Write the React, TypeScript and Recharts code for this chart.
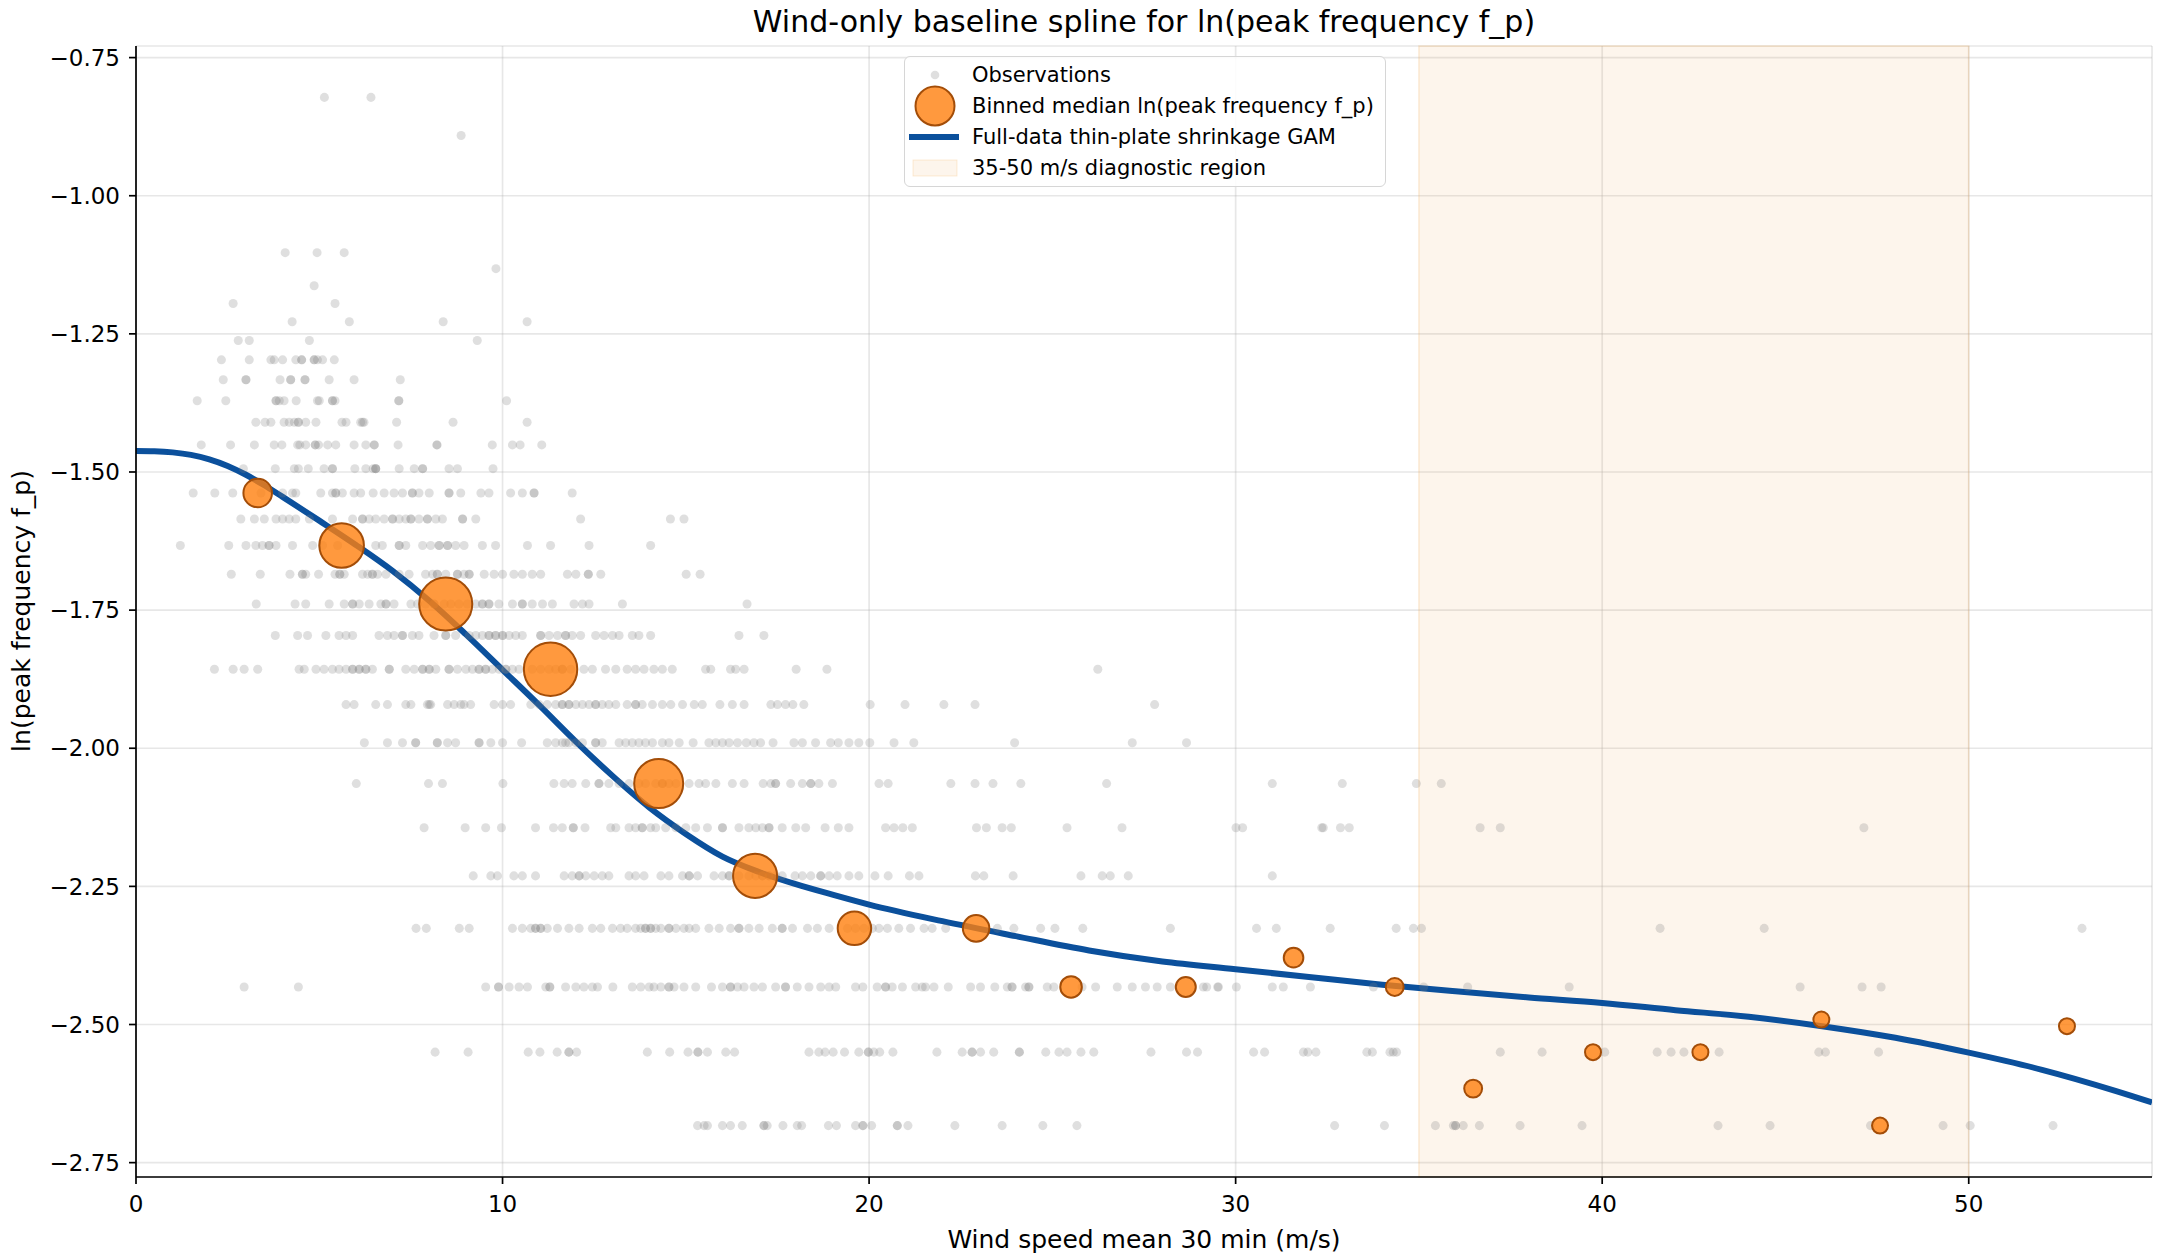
import React from 'react';
import { ComposedChart, Scatter, Line, XAxis, YAxis, ZAxis, CartesianGrid, ReferenceArea, Legend } from 'recharts';

const FONT = '"DejaVu Sans", Verdana, sans-serif';

const X_TICKS = [0, 10, 20, 30, 40, 50];
const Y_TICKS = [-2.75, -2.5, -2.25, -2.0, -1.75, -1.5, -1.25, -1.0, -0.75];

// discrete ln(f_p) levels the observations sit on (top to bottom)
const obsLevels = [
  -0.822, -0.891, -1.103, -1.132, -1.163, -1.195, -1.228, -1.262, -1.297, -1.333,
  -1.371, -1.41, -1.451, -1.494, -1.538, -1.585, -1.633, -1.685, -1.739, -1.796,
  -1.857, -1.921, -1.99, -2.064, -2.144, -2.231, -2.326, -2.432, -2.55, -2.683,
];

// wind speeds of the observations on each level (same order as obsLevels)
const obsWind: number[][] = [
  [5.14, 6.41],
  [8.87],
  [4.07, 4.94, 5.68],
  [9.82],
  [4.86],
  [2.65, 5.43],
  [4.26, 5.82, 8.38, 10.67],
  [2.79, 3.09, 4.73, 9.31],
  [2.33, 3.09, 3.68, 3.77, 4.0, 4.36, 4.52, 4.52, 4.86, 4.86, 4.95, 5.09, 5.41],
  [2.38, 3.0, 3.0, 3.93, 4.22, 4.22, 4.61, 4.61, 5.27, 5.95, 7.21],
  [1.67, 2.45, 3.82, 3.82, 3.91, 4.04, 4.37, 4.95, 5.0, 5.36, 5.36, 5.43, 7.17, 7.17, 10.11],
  [3.27, 3.52, 3.68, 4.04, 4.18, 4.32, 4.43, 4.43, 4.63, 4.91, 5.62, 5.73, 6.13, 6.18, 6.22, 7.11, 8.65, 10.67],
  [1.78, 2.58, 3.23, 3.77, 3.98, 4.41, 4.47, 4.63, 4.89, 4.89, 4.98, 5.23, 5.45, 5.95, 6.27, 6.5, 6.5, 7.15,
    8.21, 8.21, 9.72, 10.27, 10.48, 11.07],
  [2.93, 3.8, 4.32, 4.43, 4.7, 5.13, 5.36, 5.36, 5.97, 6.27, 6.47, 6.54, 6.54, 6.54, 7.18, 7.59, 7.82, 7.82,
    8.54, 8.77, 9.74],
  [1.56, 2.15, 2.64, 3.41, 4.0, 4.27, 4.36, 5.04, 5.36, 5.45, 5.45, 5.63, 5.95, 6.13, 6.47, 6.77, 7.04, 7.27,
    7.54, 7.54, 7.72, 8.0, 8.54, 8.54, 8.86, 9.41, 9.63, 10.22, 10.54, 10.86, 10.86, 11.9],
  [2.86, 3.23, 3.5, 3.82, 4.0, 4.18, 4.36, 4.73, 5.36, 5.91, 6.18, 6.18, 6.36, 6.54, 6.77, 7.0, 7.0, 7.18,
    7.36, 7.5, 7.5, 7.72, 7.95, 7.95, 8.18, 8.36, 8.91, 8.91, 9.27, 12.13, 14.58, 14.95],
  [1.21, 2.53, 3.0, 3.27, 3.45, 3.63, 3.63, 3.82, 4.27, 4.82, 5.09, 5.5, 6.54, 6.72, 7.18, 7.18, 7.36, 7.82,
    8.04, 8.27, 8.27, 8.5, 8.5, 8.72, 8.95, 9.45, 9.81, 10.68, 11.31, 12.36, 14.04],
  [2.6, 3.39, 4.2, 4.54, 4.54, 4.63, 4.98, 5.43, 5.56, 5.56, 5.68, 6.18, 6.32, 6.45, 6.45, 6.59, 6.82, 7.18,
    7.45, 7.9, 8.09, 8.22, 8.22, 8.45, 8.77, 8.77, 8.95, 9.09, 9.09, 9.5, 9.77, 10.0, 10.31, 10.54, 10.81,
    11.04, 11.77, 12.0, 12.34, 12.34, 12.68, 15.01, 15.39],
  [3.28, 4.34, 4.63, 5.27, 5.68, 5.91, 5.91, 6.09, 6.36, 6.68, 6.82, 6.82, 7.04, 7.5, 7.68, 7.9, 8.13, 8.13,
    8.41, 8.59, 8.81, 9.04, 9.27, 9.45, 9.45, 9.63, 9.63, 9.9, 10.27, 10.54, 10.54, 10.81, 11.09, 11.36,
    11.95, 12.18, 12.36, 13.27, 16.67],
  [3.8, 4.41, 4.68, 5.18, 5.54, 5.73, 5.91, 6.63, 6.86, 7.04, 7.27, 7.27, 7.54, 7.72, 8.13, 8.45, 8.45, 8.72,
    9.09, 9.27, 9.45, 9.63, 9.63, 9.81, 9.81, 10.0, 10.0, 10.18, 10.36, 10.54, 11.04, 11.04, 11.27, 11.5,
    11.72, 11.72, 11.9, 12.13, 12.54, 12.77, 13.0, 13.18, 13.54, 13.72, 14.04, 16.45, 17.13],
  [2.14, 2.65, 2.95, 3.32, 4.45, 4.59, 4.91, 5.13, 5.36, 5.54, 5.73, 5.91, 5.91, 6.09, 6.09, 6.27, 6.27,
    6.45, 6.91, 6.91, 7.36, 7.59, 7.82, 7.82, 8.0, 8.0, 8.18, 8.54, 8.54, 8.77, 9.0, 9.18, 9.36, 9.36, 9.54,
    9.54, 9.72, 9.91, 10.09, 10.09, 10.27, 10.45, 10.81, 11.04, 11.27, 11.45, 11.63, 11.63, 11.86, 12.22,
    12.45, 12.81, 13.09, 13.4, 13.63, 13.86, 14.13, 14.36, 14.63, 15.54, 15.68, 16.22, 16.36, 16.59, 18.01,
    18.85, 26.24],
  [5.73, 5.95, 6.54, 6.86, 7.36, 7.5, 7.95, 8.0, 8.04, 8.5, 8.68, 8.86, 8.95, 9.13, 9.77, 10.0, 10.22,
    10.77, 11.0, 11.22, 11.45, 11.63, 11.63, 11.81, 11.81, 12.0, 12.18, 12.36, 12.54, 12.54, 12.72, 12.9,
    13.09, 13.4, 13.63, 13.63, 13.81, 14.09, 14.36, 14.59, 14.91, 15.23, 15.45, 15.93, 16.27, 16.59, 17.32,
    17.5, 17.72, 17.92, 18.22, 20.03, 20.98, 22.04, 22.89, 27.79],
  [6.23, 6.86, 7.27, 7.63, 7.63, 8.22, 8.22, 8.5, 8.72, 9.36, 9.36, 9.68, 10.0, 10.52, 11.22, 11.45, 11.63,
    11.72, 11.81, 12.0, 12.18, 12.54, 12.54, 12.72, 13.18, 13.36, 13.54, 13.72, 13.9, 14.09, 14.36, 14.54,
    14.82, 15.2, 15.63, 15.82, 16.0, 16.18, 16.41, 16.65, 16.86, 17.04, 17.38, 17.95, 18.18, 18.54, 18.95,
    19.16, 19.45, 19.72, 20.02, 20.68, 21.22, 23.97, 27.18, 28.66],
  [6.01, 7.98, 8.36, 10.01, 11.4, 11.68, 11.9, 12.27, 12.63, 12.63, 12.9, 13.18, 13.45, 13.72, 13.9, 14.18,
    14.36, 14.36, 14.54, 14.73, 15.09, 15.36, 15.54, 15.82, 16.27, 16.59, 17.11, 17.32, 17.45, 17.45, 17.86,
    18.18, 18.41, 18.41, 18.63, 19.0, 20.27, 20.52, 22.23, 22.89, 23.38, 24.14, 26.48, 31.0, 32.91, 34.93,
    35.61],
  [7.86, 8.98, 9.54, 9.97, 10.9, 11.39, 11.63, 11.93, 11.93, 12.25, 12.95, 13.09, 13.45, 13.63, 13.81,
    13.81, 14.04, 14.18, 14.45, 14.73, 15.0, 15.27, 15.59, 16.0, 16.0, 16.45, 16.72, 16.91, 17.09, 17.27,
    17.27, 17.63, 18.0, 18.27, 18.8, 19.16, 19.45, 20.45, 20.68, 20.92, 21.18, 22.93, 23.2, 23.63, 23.88,
    25.4, 26.9, 30.01, 30.19, 32.35, 32.39, 32.86, 33.1, 36.67, 37.22, 47.14],
  [9.2, 9.68, 9.86, 10.31, 10.54, 10.9, 11.68, 11.9, 12.09, 12.09, 12.27, 12.5, 12.72, 12.9, 13.45, 13.63,
    13.86, 14.32, 14.54, 14.91, 15.09, 15.09, 15.32, 15.77, 16.0, 16.18, 16.18, 16.45, 16.72, 16.91, 17.09,
    17.09, 17.27, 17.27, 17.45, 17.63, 17.98, 18.18, 18.41, 18.68, 18.68, 18.91, 19.13, 19.45, 19.72, 20.16,
    20.52, 21.1, 21.36, 22.9, 23.13, 23.93, 25.78, 26.36, 26.58, 27.07, 31.0],
  [7.64, 7.92, 8.82, 9.09, 10.27, 10.54, 10.77, 10.9, 10.9, 11.04, 11.04, 11.22, 11.5, 11.81, 12.09, 12.45,
    12.68, 13.0, 13.22, 13.4, 13.63, 13.77, 13.9, 13.9, 14.04, 14.04, 14.18, 14.32, 14.54, 14.54, 14.73,
    14.95, 15.09, 15.27, 15.63, 15.91, 16.22, 16.45, 16.45, 16.72, 17.0, 17.36, 17.63, 17.63, 17.91, 18.32,
    18.59, 18.91, 19.41, 19.63, 19.86, 20.09, 20.27, 20.5, 20.81, 21.13, 21.5, 21.72, 22.09, 23.5, 23.95,
    24.68, 25.07, 25.83, 28.22, 30.57, 31.11, 32.58, 34.38, 34.85, 35.07, 41.58, 44.42, 53.09],
  [2.95, 4.43, 9.54, 9.89, 9.89, 10.18, 10.45, 10.68, 11.18, 11.29, 11.29, 11.72, 12.0, 12.22, 12.45, 12.59,
    13.01, 13.54, 13.77, 14.0, 14.13, 14.32, 14.54, 14.54, 14.68, 14.95, 15.27, 15.7, 16.0, 16.22, 16.22,
    16.41, 16.59, 16.86, 17.09, 17.45, 17.72, 17.72, 18.04, 18.36, 18.68, 18.91, 19.09, 19.63, 19.83, 20.22,
    20.45, 20.45, 20.63, 20.91, 21.27, 21.45, 21.54, 21.77, 22.16, 22.77, 23.04, 23.43, 23.77, 23.9, 23.9,
    24.27, 24.36, 24.36, 24.86, 25.04, 25.81, 26.18, 26.77, 27.18, 27.54, 27.86, 28.22, 29.12, 29.21, 29.51,
    29.53, 30.02, 31.0, 31.3, 32.04, 33.76, 35.13, 36.33, 39.1, 45.4, 47.09, 47.61],
  [8.16, 9.06, 10.7, 11.02, 11.49, 11.81, 11.81, 12.02, 13.95, 14.56, 15.06, 15.33, 15.33, 15.59, 16.09,
    16.33, 18.36, 18.63, 18.8, 19.02, 19.33, 19.72, 19.98, 19.98, 20.13, 20.29, 20.65, 21.85, 22.54, 22.81,
    22.81, 23.04, 23.4, 24.1, 24.1, 24.82, 25.18, 25.4, 25.78, 26.13, 27.69, 28.66, 28.96, 30.49, 30.79,
    31.85, 31.97, 32.19, 33.58, 33.73, 34.21, 34.3, 34.39, 37.22, 38.36, 40.07, 41.5, 41.88, 42.23, 43.19,
    45.91, 46.09, 47.54],
  [15.32, 15.5, 15.59, 16.0, 16.22, 16.54, 17.13, 17.13, 17.22, 17.65, 18.04, 18.16, 18.89, 19.11, 19.63,
    19.83, 19.83, 20.07, 20.77, 20.77, 21.06, 22.34, 23.63, 24.74, 25.67, 32.7, 34.06, 35.45, 35.94, 36.0,
    36.0, 36.21, 36.65, 37.76, 39.45, 43.16, 44.58, 47.32, 49.3, 50.04, 52.3],
];

// binned medians: wind speed, median ln(f_p), observations in bin
const binWind = [3.32, 5.61, 8.45, 11.31, 14.26, 16.89, 19.6, 22.92, 25.51, 28.64, 31.58, 34.34, 36.48, 39.75, 42.68, 45.98, 47.58, 52.68];
const binMedian = [-1.538, -1.633, -1.739, -1.857, -2.064, -2.231, -2.326, -2.326, -2.432, -2.432, -2.379, -2.432, -2.616, -2.55, -2.55, -2.491, -2.683, -2.503];
const binCount = [51, 124, 176, 178, 150, 121, 70, 44, 29, 25, 24, 20, 20, 16, 16, 16, 16, 16];

// GAM fit sampled along the wind axis
const gamWind = [0, 0.5, 1, 1.5, 2, 2.5, 3, 3.5, 4, 5, 6, 7, 8, 9, 10, 11, 12, 13, 14, 15, 16, 17, 18, 19, 20, 22, 24, 26, 28, 30, 32, 34, 36, 38, 40, 42, 44, 46, 48, 50, 52, 54, 55];
const gamFit = [
  -1.462, -1.4625, -1.4645, -1.469, -1.477, -1.489, -1.505, -1.524, -1.545, -1.588, -1.632, -1.679, -1.733,
  -1.794, -1.858, -1.922, -1.988, -2.05, -2.107, -2.155, -2.196, -2.224, -2.246, -2.265, -2.283, -2.313,
  -2.34, -2.366, -2.386, -2.4, -2.414, -2.428, -2.44, -2.451, -2.461, -2.474, -2.486, -2.503, -2.524,
  -2.551, -2.582, -2.62, -2.641,
];

const observations = obsLevels.flatMap((level, i) => obsWind[i].map((x) => ({ x, y: level })));
const bins = binWind.map((x, i) => ({ x, y: binMedian[i], n: binCount[i] }));
const gam = gamWind.map((x, i) => ({ x, y: gamFit[i] }));

const BLUE = '#0b509c';
const ORANGE = '#ff7f0e';
const ORANGE_EDGE = '#a34d08';
const SPAN = '#f0a040';

const fmtY = (v: number) => v.toFixed(2).replace('-', '\u2212');

const tickStyle = { fill: '#000', fontSize: 23, fontFamily: FONT };
const axisLine = { stroke: '#000', strokeWidth: 1.7 };

function YLabel() {
  return (
    <text
      x={21}
      y={611}
      transform="rotate(-90 21 611)"
      textAnchor="middle"
      dominantBaseline="central"
      fontSize={25}
      fontFamily={FONT}
      fill="#000"
    >
      ln(peak frequency f_p)
    </text>
  );
}

function LegendBox() {
  const rows = [
    'Observations',
    'Binned median ln(peak frequency f_p)',
    'Full-data thin-plate shrinkage GAM',
    '35-50 m/s diagnostic region',
  ];
  const ys = [18, 49, 80, 111];
  return (
    <div
      style={{
        position: 'relative',
        width: 482,
        height: 131,
        boxSizing: 'border-box',
        border: '1.7px solid #d6d6d6',
        borderRadius: 6,
        background: 'rgba(255,255,255,0.85)',
        fontFamily: FONT,
        fontSize: 21,
        color: '#000',
      }}
    >
      <svg width={70} height={131} style={{ position: 'absolute', left: 0, top: 0 }}>
        <circle cx={30} cy={ys[0]} r={4.3} fill="#808080" fillOpacity={0.25} />
        <circle cx={30} cy={ys[1]} r={19.5} fill={ORANGE} fillOpacity={0.8} stroke={ORANGE_EDGE} strokeWidth={2} />
        <line x1={4} x2={54} y1={ys[2]} y2={ys[2]} stroke={BLUE} strokeWidth={6} />
        <rect x={8} y={ys[3] - 8} width={44} height={16} fill={SPAN} fillOpacity={0.1} stroke={SPAN} strokeOpacity={0.2} />
      </svg>
      {rows.map((r, i) => (
        <div
          key={r}
          style={{ position: 'absolute', left: 67, top: ys[i] - 13, lineHeight: '26px', whiteSpace: 'nowrap' }}
        >
          {r}
        </div>
      ))}
    </div>
  );
}

export default function App() {
  return (
    <div style={{ position: 'absolute', left: 0, top: 0, width: 2160, height: 1260, background: '#fff', fontFamily: FONT }}>
      <div
        style={{
          position: 'absolute',
          left: 136,
          width: 2016,
          top: 7,
          textAlign: 'center',
          fontSize: 30,
          lineHeight: '30px',
          color: '#000',
          zIndex: 2,
        }}
      >
        Wind-only baseline spline for ln(peak frequency f_p)
      </div>
      <ComposedChart width={2160} height={1260} margin={{ top: 46, right: 8, bottom: 0, left: 0 }}>
        <ReferenceArea x1={35} x2={50} fill={SPAN} fillOpacity={0.1} stroke={SPAN} strokeOpacity={0.2} strokeWidth={1.5} />
        <CartesianGrid stroke="#b0b0b0" strokeOpacity={0.3} strokeWidth={1.7} />
        <XAxis
          dataKey="x"
          type="number"
          domain={[0, 55]}
          ticks={X_TICKS}
          allowDataOverflow
          height={83}
          tickSize={7}
          tickMargin={12}
          tick={tickStyle}
          tickLine={axisLine}
          axisLine={axisLine}
          label={{ value: 'Wind speed mean 30 min (m/s)', position: 'insideBottom', offset: 12, fill: '#000', fontSize: 25, fontFamily: FONT }}
        />
        <XAxis xAxisId="top" orientation="top" type="number" domain={[0, 55]} height={0} tick={false} tickLine={false} axisLine={axisLine} />
        <YAxis
          dataKey="y"
          type="number"
          domain={[-2.776, -0.729]}
          ticks={Y_TICKS}
          allowDataOverflow
          width={136}
          tickSize={7}
          tickMargin={9}
          tick={tickStyle}
          tickLine={axisLine}
          axisLine={axisLine}
          tickFormatter={fmtY}
          label={{ content: () => <YLabel /> }}
        />
        <YAxis yAxisId="right" orientation="right" type="number" domain={[-2.776, -0.729]} width={0} tick={false} tickLine={false} axisLine={axisLine} />
        <ZAxis zAxisId="obs" range={[58, 58]} />
        <ZAxis zAxisId="bins" dataKey="n" type="number" domain={[16, 178]} range={[201.3, 2240]} />
        <Scatter name="Observations" data={observations} zAxisId="obs" fill="#808080" fillOpacity={0.25} isAnimationActive={false} />
        <Line data={gam} dataKey="y" type="monotone" stroke={BLUE} strokeWidth={6} dot={false} activeDot={false} isAnimationActive={false} />
        <Scatter name="Binned median" data={bins} zAxisId="bins" fill={ORANGE} fillOpacity={0.8} stroke={ORANGE_EDGE} strokeWidth={2} isAnimationActive={false} />
        <Legend
          layout="vertical"
          align="center"
          verticalAlign="middle"
          content={() => <LegendBox />}
          wrapperStyle={{ left: 904, top: 56, width: 482, height: 131 }}
        />
      </ComposedChart>
    </div>
  );
}
